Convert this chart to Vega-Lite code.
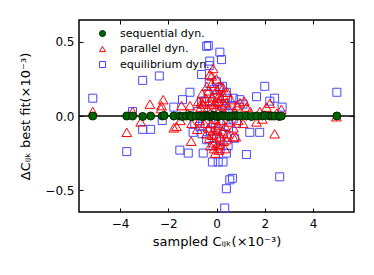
{
  "$schema": "https://vega.github.io/schema/vega-lite/v6.json",
  "width": 275,
  "height": 192,
  "autosize": {"type": "none"},
  "padding": {"left": 79, "top": 20, "right": 20, "bottom": 63},
  "background": "white",
  "config": {
    "font": "DejaVu Sans",
    "view": {"stroke": "black", "strokeWidth": 1.5},
    "axis": {"grid": false, "domain": false, "tickColor": "black", "tickSize": -4, "tickWidth": 1, "labelColor": "black", "labelFontSize": 12, "titleFontSize": 13, "titleFontWeight": "normal", "titleColor": "black"},
    "point": {"opacity": 1, "strokeWidth": 1}
  },
  "datasets": {
    "pts": [
      {"series": "equilibrium dyn.", "x": -5.13, "y": 0.12},
      {"series": "equilibrium dyn.", "x": -3.72, "y": -0.24},
      {"series": "equilibrium dyn.", "x": -3.48, "y": 0.03},
      {"series": "equilibrium dyn.", "x": -3.06, "y": 0.24},
      {"series": "equilibrium dyn.", "x": -3.06, "y": -0.09},
      {"series": "equilibrium dyn.", "x": -2.73, "y": -0.09},
      {"series": "equilibrium dyn.", "x": -2.37, "y": 0.27},
      {"series": "equilibrium dyn.", "x": -2.25, "y": -0.03},
      {"series": "equilibrium dyn.", "x": -1.77, "y": 0.06},
      {"series": "equilibrium dyn.", "x": -1.52, "y": -0.23},
      {"series": "equilibrium dyn.", "x": -1.41, "y": 0.11},
      {"series": "equilibrium dyn.", "x": -1.17, "y": -0.25},
      {"series": "equilibrium dyn.", "x": -1.10, "y": 0.16},
      {"series": "equilibrium dyn.", "x": -0.97, "y": -0.11},
      {"series": "equilibrium dyn.", "x": -0.55, "y": -0.25},
      {"series": "equilibrium dyn.", "x": -0.62, "y": 0.10},
      {"series": "equilibrium dyn.", "x": -0.41, "y": 0.47},
      {"series": "equilibrium dyn.", "x": -0.34, "y": 0.475},
      {"series": "equilibrium dyn.", "x": -0.28, "y": 0.37},
      {"series": "equilibrium dyn.", "x": -0.30, "y": 0.34},
      {"series": "equilibrium dyn.", "x": -0.62, "y": 0.28},
      {"series": "equilibrium dyn.", "x": -0.17, "y": -0.31},
      {"series": "equilibrium dyn.", "x": 0.07, "y": -0.31},
      {"series": "equilibrium dyn.", "x": 0.14, "y": 0.43},
      {"series": "equilibrium dyn.", "x": 0.21, "y": 0.38},
      {"series": "equilibrium dyn.", "x": 0.0, "y": 0.23},
      {"series": "equilibrium dyn.", "x": 0.41, "y": -0.25},
      {"series": "equilibrium dyn.", "x": 0.48, "y": -0.20},
      {"series": "equilibrium dyn.", "x": 0.55, "y": -0.43},
      {"series": "equilibrium dyn.", "x": 0.66, "y": -0.42},
      {"series": "equilibrium dyn.", "x": 0.41, "y": -0.49},
      {"series": "equilibrium dyn.", "x": 0.34, "y": -0.62},
      {"series": "equilibrium dyn.", "x": 1.24, "y": -0.26},
      {"series": "equilibrium dyn.", "x": 1.38, "y": -0.11},
      {"series": "equilibrium dyn.", "x": 1.66, "y": 0.13},
      {"series": "equilibrium dyn.", "x": 1.79, "y": -0.11},
      {"series": "equilibrium dyn.", "x": 2.0, "y": 0.20},
      {"series": "equilibrium dyn.", "x": 2.21, "y": 0.10},
      {"series": "equilibrium dyn.", "x": 2.41, "y": 0.12},
      {"series": "equilibrium dyn.", "x": 2.62, "y": -0.41},
      {"series": "equilibrium dyn.", "x": 2.72, "y": 0.06},
      {"series": "equilibrium dyn.", "x": 4.99, "y": 0.16},
      {"series": "equilibrium dyn.", "x": 0.69, "y": -0.02},
      {"series": "equilibrium dyn.", "x": 0.83, "y": -0.05},
      {"series": "equilibrium dyn.", "x": 0.97, "y": 0.11},
      {"series": "equilibrium dyn.", "x": 0.14, "y": 0.19},
      {"series": "equilibrium dyn.", "x": 0.41, "y": 0.16},
      {"series": "equilibrium dyn.", "x": -0.69, "y": -0.07},
      {"series": "equilibrium dyn.", "x": -0.41, "y": -0.16},
      {"series": "equilibrium dyn.", "x": 0.14, "y": -0.16},
      {"series": "equilibrium dyn.", "x": 0.55, "y": 0.02},
      {"series": "equilibrium dyn.", "x": 1.1, "y": 0.08},
      {"series": "equilibrium dyn.", "x": 0.27, "y": -0.31},
      {"series": "equilibrium dyn.", "x": -0.5, "y": 0.1},
      {"series": "equilibrium dyn.", "x": -0.45, "y": -0.05},
      {"series": "equilibrium dyn.", "x": -0.35, "y": 0.15},
      {"series": "equilibrium dyn.", "x": -0.25, "y": -0.1},
      {"series": "equilibrium dyn.", "x": -0.2, "y": 0.05},
      {"series": "equilibrium dyn.", "x": -0.1, "y": 0.18},
      {"series": "equilibrium dyn.", "x": -0.05, "y": -0.08},
      {"series": "equilibrium dyn.", "x": 0.05, "y": 0.12},
      {"series": "equilibrium dyn.", "x": 0.1, "y": -0.05},
      {"series": "equilibrium dyn.", "x": 0.2, "y": 0.08},
      {"series": "equilibrium dyn.", "x": 0.3, "y": -0.12},
      {"series": "equilibrium dyn.", "x": 0.35, "y": 0.05},
      {"series": "equilibrium dyn.", "x": 0.5, "y": -0.08},
      {"series": "equilibrium dyn.", "x": 0.6, "y": 0.07},
      {"series": "equilibrium dyn.", "x": -0.15, "y": -0.2},
      {"series": "equilibrium dyn.", "x": 0.15, "y": -0.22},
      {"series": "equilibrium dyn.", "x": 0.25, "y": 0.2},
      {"series": "equilibrium dyn.", "x": -0.3, "y": 0.22},
      {"series": "equilibrium dyn.", "x": 0.0, "y": -0.15},
      {"series": "equilibrium dyn.", "x": 0.45, "y": 0.12},
      {"series": "equilibrium dyn.", "x": -0.6, "y": -0.12},
      {"series": "equilibrium dyn.", "x": 0.75, "y": -0.15},
      {"series": "equilibrium dyn.", "x": 0.7, "y": 0.12},
      {"series": "equilibrium dyn.", "x": -0.8, "y": 0.03},
      {"series": "equilibrium dyn.", "x": -0.9, "y": -0.05},
      {"series": "parallel dyn.", "x": -5.13, "y": 0.03},
      {"series": "parallel dyn.", "x": -3.72, "y": -0.11},
      {"series": "parallel dyn.", "x": -3.48, "y": 0.03},
      {"series": "parallel dyn.", "x": -3.14, "y": -0.04},
      {"series": "parallel dyn.", "x": -2.76, "y": 0.08},
      {"series": "parallel dyn.", "x": -2.28, "y": 0.07},
      {"series": "parallel dyn.", "x": -2.21, "y": 0.11},
      {"series": "parallel dyn.", "x": -2.3, "y": 0.05},
      {"series": "parallel dyn.", "x": -1.77, "y": -0.08},
      {"series": "parallel dyn.", "x": -1.66, "y": -0.07},
      {"series": "parallel dyn.", "x": -1.45, "y": 0.07},
      {"series": "parallel dyn.", "x": -1.10, "y": 0.07},
      {"series": "parallel dyn.", "x": -1.05, "y": -0.17},
      {"series": "parallel dyn.", "x": -1.03, "y": -0.05},
      {"series": "parallel dyn.", "x": -1.5, "y": -0.03},
      {"series": "parallel dyn.", "x": -1.2, "y": 0.02},
      {"series": "parallel dyn.", "x": 0.97, "y": 0.09},
      {"series": "parallel dyn.", "x": 1.1, "y": -0.05},
      {"series": "parallel dyn.", "x": 1.24, "y": 0.06},
      {"series": "parallel dyn.", "x": 1.15, "y": 0.1},
      {"series": "parallel dyn.", "x": 1.66, "y": -0.04},
      {"series": "parallel dyn.", "x": 1.4, "y": 0.03},
      {"series": "parallel dyn.", "x": 2.07, "y": 0.06},
      {"series": "parallel dyn.", "x": 2.21, "y": 0.085},
      {"series": "parallel dyn.", "x": 2.41, "y": -0.12},
      {"series": "parallel dyn.", "x": 2.69, "y": 0.045},
      {"series": "parallel dyn.", "x": 4.97, "y": -0.005},
      {"series": "parallel dyn.", "x": 0.69, "y": -0.14},
      {"series": "parallel dyn.", "x": 0.41, "y": -0.16},
      {"series": "parallel dyn.", "x": 1.8, "y": 0.03},
      {"series": "parallel dyn.", "x": 2.5, "y": 0.02},
      {"series": "parallel dyn.", "x": 1.9, "y": -0.02},
      {"series": "parallel dyn.", "x": -0.62, "y": 0.09},
      {"series": "parallel dyn.", "x": -0.28, "y": 0.28},
      {"series": "parallel dyn.", "x": -0.14, "y": 0.32},
      {"series": "parallel dyn.", "x": -0.6, "y": 0.15},
      {"series": "parallel dyn.", "x": -0.55, "y": 0.08},
      {"series": "parallel dyn.", "x": -0.5, "y": -0.05},
      {"series": "parallel dyn.", "x": -0.45, "y": 0.12},
      {"series": "parallel dyn.", "x": -0.42, "y": -0.12},
      {"series": "parallel dyn.", "x": -0.4, "y": 0.2},
      {"series": "parallel dyn.", "x": -0.38, "y": 0.05},
      {"series": "parallel dyn.", "x": -0.35, "y": -0.08},
      {"series": "parallel dyn.", "x": -0.32, "y": 0.17},
      {"series": "parallel dyn.", "x": -0.3, "y": -0.15},
      {"series": "parallel dyn.", "x": -0.28, "y": 0.1},
      {"series": "parallel dyn.", "x": -0.25, "y": 0.02},
      {"series": "parallel dyn.", "x": -0.22, "y": -0.05},
      {"series": "parallel dyn.", "x": -0.2, "y": 0.22},
      {"series": "parallel dyn.", "x": -0.18, "y": 0.13},
      {"series": "parallel dyn.", "x": -0.15, "y": -0.1},
      {"series": "parallel dyn.", "x": -0.12, "y": 0.08},
      {"series": "parallel dyn.", "x": -0.1, "y": -0.18},
      {"series": "parallel dyn.", "x": -0.08, "y": 0.15},
      {"series": "parallel dyn.", "x": -0.05, "y": -0.02},
      {"series": "parallel dyn.", "x": -0.03, "y": 0.05},
      {"series": "parallel dyn.", "x": 0.0, "y": -0.12},
      {"series": "parallel dyn.", "x": 0.02, "y": 0.18},
      {"series": "parallel dyn.", "x": 0.05, "y": -0.06},
      {"series": "parallel dyn.", "x": 0.08, "y": 0.1},
      {"series": "parallel dyn.", "x": 0.1, "y": -0.2},
      {"series": "parallel dyn.", "x": 0.12, "y": 0.04},
      {"series": "parallel dyn.", "x": 0.15, "y": -0.14},
      {"series": "parallel dyn.", "x": 0.18, "y": 0.12},
      {"series": "parallel dyn.", "x": 0.2, "y": -0.03},
      {"series": "parallel dyn.", "x": 0.22, "y": 0.07},
      {"series": "parallel dyn.", "x": 0.25, "y": -0.1},
      {"series": "parallel dyn.", "x": 0.28, "y": 0.14},
      {"series": "parallel dyn.", "x": 0.3, "y": -0.17},
      {"series": "parallel dyn.", "x": 0.33, "y": 0.02},
      {"series": "parallel dyn.", "x": 0.36, "y": -0.07},
      {"series": "parallel dyn.", "x": 0.4, "y": 0.09},
      {"series": "parallel dyn.", "x": 0.45, "y": -0.12},
      {"series": "parallel dyn.", "x": 0.5, "y": 0.05},
      {"series": "parallel dyn.", "x": 0.55, "y": -0.04},
      {"series": "parallel dyn.", "x": 0.6, "y": 0.11},
      {"series": "parallel dyn.", "x": 0.7, "y": -0.08},
      {"series": "parallel dyn.", "x": 0.75, "y": 0.03},
      {"series": "parallel dyn.", "x": 0.8, "y": -0.14},
      {"series": "parallel dyn.", "x": -0.7, "y": -0.03},
      {"series": "parallel dyn.", "x": -0.65, "y": 0.06},
      {"series": "parallel dyn.", "x": -0.75, "y": 0.1},
      {"series": "parallel dyn.", "x": -0.8, "y": -0.09},
      {"series": "parallel dyn.", "x": 0.85, "y": 0.07},
      {"series": "parallel dyn.", "x": 0.9, "y": -0.03},
      {"series": "parallel dyn.", "x": -0.1, "y": -0.22},
      {"series": "parallel dyn.", "x": -0.05, "y": -0.25},
      {"series": "parallel dyn.", "x": 0.05, "y": -0.19},
      {"series": "parallel dyn.", "x": 0.0, "y": 0.25},
      {"series": "parallel dyn.", "x": -0.2, "y": 0.27},
      {"series": "parallel dyn.", "x": 0.1, "y": -0.23},
      {"series": "parallel dyn.", "x": 0.15, "y": 0.2},
      {"series": "parallel dyn.", "x": -0.25, "y": -0.2},
      {"series": "parallel dyn.", "x": 0.35, "y": -0.22},
      {"series": "parallel dyn.", "x": 0.45, "y": 0.16},
      {"series": "parallel dyn.", "x": -0.05, "y": 0.09},
      {"series": "parallel dyn.", "x": 0.03, "y": -0.09},
      {"series": "parallel dyn.", "x": 0.07, "y": 0.13},
      {"series": "parallel dyn.", "x": -0.17, "y": -0.13},
      {"series": "parallel dyn.", "x": 0.27, "y": 0.19},
      {"series": "sequential dyn.", "x": -5.13, "y": 0.0},
      {"series": "sequential dyn.", "x": -3.72, "y": 0.0},
      {"series": "sequential dyn.", "x": -3.48, "y": 0.0},
      {"series": "sequential dyn.", "x": -3.06, "y": -0.003},
      {"series": "sequential dyn.", "x": -2.73, "y": 0.0},
      {"series": "sequential dyn.", "x": -2.25, "y": 0.0},
      {"series": "sequential dyn.", "x": -2.17, "y": 0.003},
      {"series": "sequential dyn.", "x": -1.77, "y": 0.0},
      {"series": "sequential dyn.", "x": -1.52, "y": 0.0},
      {"series": "sequential dyn.", "x": -1.41, "y": -0.003},
      {"series": "sequential dyn.", "x": -1.25, "y": 0.0},
      {"series": "sequential dyn.", "x": -1.10, "y": 0.004},
      {"series": "sequential dyn.", "x": -1.03, "y": -0.005},
      {"series": "sequential dyn.", "x": -0.85, "y": 0.0},
      {"series": "sequential dyn.", "x": -0.69, "y": 0.0},
      {"series": "sequential dyn.", "x": -0.58, "y": -0.004},
      {"series": "sequential dyn.", "x": -0.5, "y": 0.0},
      {"series": "sequential dyn.", "x": -0.41, "y": 0.003},
      {"series": "sequential dyn.", "x": -0.35, "y": 0.0},
      {"series": "sequential dyn.", "x": -0.28, "y": -0.003},
      {"series": "sequential dyn.", "x": -0.2, "y": 0.0},
      {"series": "sequential dyn.", "x": -0.14, "y": 0.004},
      {"series": "sequential dyn.", "x": -0.08, "y": 0.0},
      {"series": "sequential dyn.", "x": 0.0, "y": 0.0},
      {"series": "sequential dyn.", "x": 0.05, "y": -0.003},
      {"series": "sequential dyn.", "x": 0.14, "y": 0.0},
      {"series": "sequential dyn.", "x": 0.2, "y": 0.003},
      {"series": "sequential dyn.", "x": 0.3, "y": 0.0},
      {"series": "sequential dyn.", "x": 0.41, "y": 0.0},
      {"series": "sequential dyn.", "x": 0.5, "y": -0.003},
      {"series": "sequential dyn.", "x": 0.6, "y": 0.0},
      {"series": "sequential dyn.", "x": 0.69, "y": 0.0},
      {"series": "sequential dyn.", "x": 0.8, "y": 0.003},
      {"series": "sequential dyn.", "x": 0.9, "y": 0.0},
      {"series": "sequential dyn.", "x": 1.0, "y": 0.0},
      {"series": "sequential dyn.", "x": 1.24, "y": 0.0},
      {"series": "sequential dyn.", "x": 1.45, "y": -0.003},
      {"series": "sequential dyn.", "x": 1.66, "y": 0.0},
      {"series": "sequential dyn.", "x": 1.9, "y": 0.0},
      {"series": "sequential dyn.", "x": 2.0, "y": 0.003},
      {"series": "sequential dyn.", "x": 2.2, "y": 0.0},
      {"series": "sequential dyn.", "x": 2.3, "y": 0.0},
      {"series": "sequential dyn.", "x": 2.41, "y": 0.0},
      {"series": "sequential dyn.", "x": 2.6, "y": -0.003},
      {"series": "sequential dyn.", "x": 2.69, "y": 0.0},
      {"series": "sequential dyn.", "x": 4.99, "y": 0.0}
    ]
  },
  "data": {"name": "pts"},
  "resolve": {"axis": {"x": "independent", "y": "independent"}},
  "layer": [
    {
      "data": {"values": [{}]},
      "mark": {"type": "rule", "color": "black", "strokeWidth": 1.5},
      "encoding": {"y": {"datum": 0, "type": "quantitative", "axis": null}}
    },
    {
      "mark": {"type": "point", "opacity": 0},
      "encoding": {
        "x": {"field": "x", "type": "quantitative", "scale": {"domain": [-5.7, 5.7], "nice": false, "zero": false},
              "axis": {"orient": "bottom", "values": [-4, -2, 0, 2, 4], "format": "d", "labelPadding": 10, "title": "sampled Cᵢⱼₖ(×10⁻³)", "titlePadding": 6}},
        "y": {"field": "y", "type": "quantitative", "scale": {"domain": [-0.647, 0.647], "nice": false, "zero": false},
              "axis": {"orient": "left", "values": [-0.5, 0, 0.5], "format": ".1f", "labelPadding": 9, "title": "ΔCᵢⱼₖ best fit(×10⁻³)", "titlePadding": 12}}
      }
    },
    {
      "mark": {"type": "point", "opacity": 0},
      "encoding": {
        "x": {"field": "x", "type": "quantitative", "axis": {"orient": "top", "values": [-4, -2, 0, 2, 4], "labels": false, "title": null}},
        "y": {"field": "y", "type": "quantitative", "axis": {"orient": "right", "values": [-0.5, 0, 0.5], "labels": false, "title": null}}
      }
    },
    {
      "transform": [{"filter": "datum.series == 'equilibrium dyn.'"}],
      "mark": {"type": "point", "size": 64},
      "encoding": {
        "x": {"field": "x", "type": "quantitative", "axis": null},
        "y": {"field": "y", "type": "quantitative", "axis": null},
        "shape": {"field": "series", "type": "nominal", "scale": {"domain": ["sequential dyn.", "parallel dyn.", "equilibrium dyn."], "range": ["circle", "triangle-up", "square"]}, "legend": {"orient": "none", "legendX": 18, "legendY": 8, "title": null, "labelFontSize": 11, "labelOffset": 12, "rowPadding": 3.5, "padding": 0, "labelColor": "black", "symbolSize": 36}},
        "fill": {"field": "series", "type": "nominal", "scale": {"domain": ["sequential dyn.", "parallel dyn.", "equilibrium dyn."], "range": ["#006400", "transparent", "transparent"]}},
        "stroke": {"field": "series", "type": "nominal", "scale": {"domain": ["sequential dyn.", "parallel dyn.", "equilibrium dyn."], "range": ["#002200", "#ff0000", "#4646ff"]}}
      }
    },
    {
      "transform": [{"filter": "datum.series == 'parallel dyn.'"}],
      "mark": {"type": "point", "size": 95},
      "encoding": {
        "x": {"field": "x", "type": "quantitative", "axis": null},
        "y": {"field": "y", "type": "quantitative", "axis": null},
        "shape": {"field": "series", "type": "nominal"},
        "fill": {"field": "series", "type": "nominal"},
        "stroke": {"field": "series", "type": "nominal"}
      }
    },
    {
      "transform": [{"filter": "datum.series == 'sequential dyn.'"}],
      "mark": {"type": "point", "size": 64},
      "encoding": {
        "x": {"field": "x", "type": "quantitative", "axis": null},
        "y": {"field": "y", "type": "quantitative", "axis": null},
        "shape": {"field": "series", "type": "nominal"},
        "fill": {"field": "series", "type": "nominal"},
        "stroke": {"field": "series", "type": "nominal"}
      }
    }
  ]
}
